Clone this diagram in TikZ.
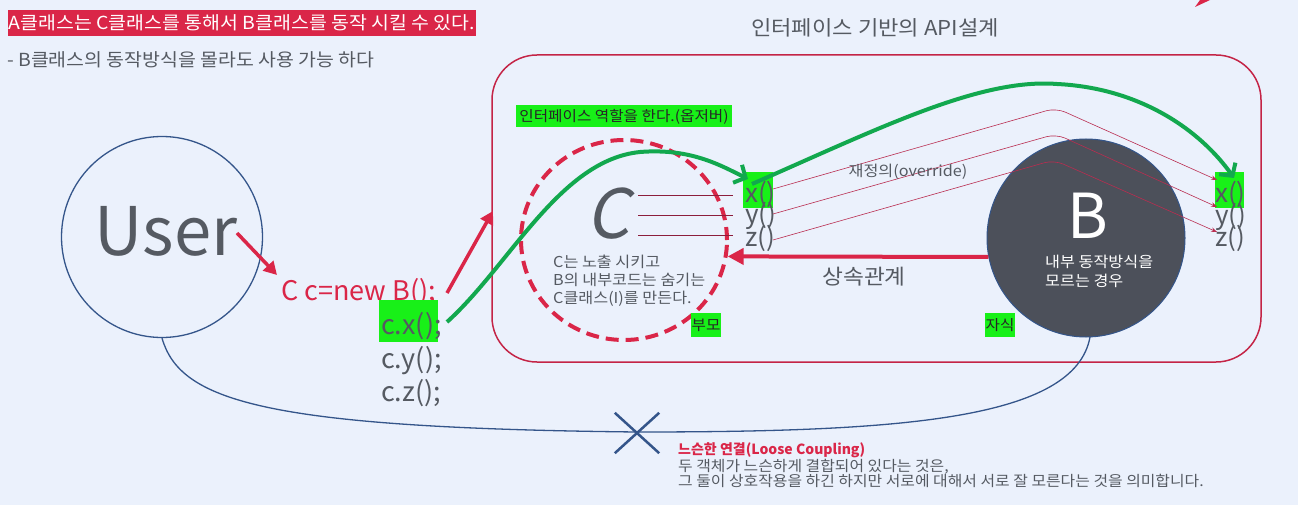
\documentclass[tikz,border=0pt]{standalone}
\usepackage{fontspec}
\setmainfont{Noto Sans CJK KR}
\newfontfamily\slantfont[FakeSlant=0.2]{Noto Sans CJK KR}
\newfontfamily\hfont[FakeStretch=1.08]{Noto Sans CJK KR}
\usetikzlibrary{arrows.meta,shapes.geometric}
\newcommand{\myfs}[2]{\fontsize{#1}{#2}\selectfont}
\definecolor{bg}{RGB}{235,241,252}
\definecolor{crim}{RGB}{218,38,72}
\definecolor{rectred}{RGB}{196,36,70}
\definecolor{lime}{RGB}{24,240,24}
\definecolor{garrow}{RGB}{18,168,78}
\definecolor{txtgray}{RGB}{85,90,98}
\definecolor{bdark}{RGB}{76,80,90}
\definecolor{navy}{RGB}{52,85,138}
\definecolor{thinred}{RGB}{185,45,80}
\definecolor{linered}{RGB}{140,30,60}
\begin{document}
\begin{tikzpicture}[x=1pt,y=-1pt,
  gtext/.style={text=txtgray, inner sep=0pt},
  hlbox/.style={fill=lime, inner sep=0pt},
  codefont/.style={font=\myfs{27}{27}},
  xyzfont/.style={font=\myfs{26}{26}},
  redarrow/.style={draw=crim, line width=3.5pt, -{Triangle[length=13pt,width=14pt]}},
  greenarrow/.style={draw=garrow, line width=4pt, -{Straight Barb[length=9pt,width=20pt]}},
  thinline/.style={draw=thinred, line width=0.6pt, rounded corners=10pt, -{Stealth[length=6pt,width=4.5pt]}},
  cline/.style={draw=linered, line width=0.8pt}]
\useasboundingbox (0,0) rectangle (1298,505);
\fill[bg] (0,0) rectangle (1298,505);
\fill[crim] (1195,7) -- (1210,0) -- (1200,0) -- cycle;

% headings
\node[anchor=west, fill=crim, text=white, font=\hfont\myfs{18}{18}, inner xsep=0.5pt, inner ysep=0pt, minimum height=26pt] (title) at (8,23) {A클래스는 C클래스를 통해서 B클래스를 동작 시킬 수 있다.};
\node[gtext, anchor=west, font=\hfont\myfs{18}{18}] (sub) at (7,60) {- B클래스의 동작방식을 몰라도 사용 가능 하다};
\node[gtext, font=\hfont\myfs{20.5}{20.5}] (api) at (875,28) {인터페이스 기반의 API설계};

% frame
\node[draw=rectred, line width=1.5pt, rounded corners=45pt, minimum width=769pt, minimum height=307pt, inner sep=0pt] (frame) at (876.5,208.5) {};

% user
\node[circle, draw=navy, line width=1.3pt, minimum size=201pt, inner sep=0pt] (user) at (162,237) {};
\node[gtext, font=\myfs{67}{67}] (usertxt) at (166,231) {User};

% code
\node[anchor=base west, text=crim, inner sep=0pt, codefont] (cnew) at (281,300) {C c=new B();};
\node[hlbox, minimum width=59pt, minimum height=42pt] (cxbox) at (408.5,321) {};
\node[gtext, anchor=base west, codefont] (cx) at (381,334) {c.x();};
\node[gtext, anchor=base west, codefont] (cy) at (381,368) {c.y();};
\node[gtext, anchor=base west, codefont] (cz) at (381,401) {c.z();};

% bottom coupling curve
\draw[navy, line width=1.3pt] (user.south) .. controls (180,400) and (260,428) .. (637,432)
  .. controls (900,432) and (1075,420) .. (1090,337);
\node[minimum width=44pt, minimum height=40pt, inner sep=0pt] (xmark) at (637,433) {};
\draw[navy, line width=2.5pt] (xmark.north west) -- (xmark.south east);
\draw[navy, line width=2.5pt] (xmark.south west) -- (xmark.north east);
\node[anchor=base west, text=crim, inner sep=0pt, font=\myfs{14}{14}\bfseries] (loose) at (678,454) {느슨한 연결(Loose Coupling)};
\node[gtext, anchor=base west, font=\hfont\myfs{14.7}{14.7}] (loose2) at (678,471) {두 객체가 느슨하게 결합되어 있다는 것은,};
\node[gtext, anchor=base west, font=\hfont\myfs{14.7}{14.7}] (loose3) at (678,486) {그 둘이 상호작용을 하긴 하지만 서로에 대해서 서로 잘 모른다는 것을 의미합니다.};

% interface label
\node[hlbox, minimum width=216pt, minimum height=22pt, font=\hfont\myfs{14.5}{14.5}, text=black!85] (role) at (624,116.5) {인터페이스 역할을 한다.(옵저버)};

% C circle
\node[ellipse, draw=crim, line width=4pt, dash pattern=on 13pt off 7pt, minimum width=206pt, minimum height=200pt, inner sep=0pt] (ccirc) at (624,240) {};
\node[gtext, font=\slantfont\myfs{68}{68}] (cletter) at (608,214) {C};
\node[gtext, anchor=base west, font=\hfont\myfs{15}{15}] (cd1) at (553,267) {C는 노출 시키고};
\node[gtext, anchor=base west, font=\hfont\myfs{15}{15}] (cd2) at (553,285) {B의 내부코드는 숨기는};
\node[gtext, anchor=base west, font=\hfont\myfs{15}{15}] (cd3) at (553,303) {C클래스(I)를 만든다.};
\node[hlbox, minimum width=30pt, minimum height=24pt, font=\hfont\myfs{14.5}{14.5}, text=black!85] (parent) at (706,325) {부모};

% left x y z
\node[hlbox, minimum width=30pt, minimum height=36pt] (lxbox) at (758,190) {};
\node[gtext, anchor=base west, xyzfont] (lx) at (745,203) {x()};
\node[gtext, anchor=base west, xyzfont] (ly) at (745,224) {y()};
\node[gtext, anchor=base west, xyzfont] (lz) at (745,246) {z()};
\coordinate (c1a) at (638,195); \coordinate (c1b) at (733,195);
\coordinate (c2a) at (638,215); \coordinate (c2b) at (733,215);
\coordinate (c3a) at (638,235); \coordinate (c3b) at (733,235);
\draw[cline] (c1a) -- (c1b);
\draw[cline] (c2a) -- (c2b);
\draw[cline] (c3a) -- (c3b);

% B circle
\node[circle, fill=bdark, draw=navy, line width=1pt, minimum size=198pt, inner sep=0pt] (bcirc) at (1086,238) {};
\node[text=white, inner sep=0pt, font=\myfs{62}{62}] (bletter) at (1088,216) {B};
\node[text=white, anchor=base west, inner sep=0pt, font=\hfont\myfs{15}{15}] (bd1) at (1045,267) {내부 동작방식을};
\node[text=white, anchor=base west, inner sep=0pt, font=\hfont\myfs{15}{15}] (bd2) at (1045,286) {모르는 경우};
\node[hlbox, minimum width=30pt, minimum height=24pt, font=\hfont\myfs{14.5}{14.5}, text=black!85] (child) at (1000,325) {자식};

% right x y z
\node[hlbox, minimum width=29pt, minimum height=36pt] (rxbox) at (1229,190) {};
\node[gtext, anchor=base west, xyzfont] (rx) at (1215,203) {x()};
\node[gtext, anchor=base west, xyzfont] (ry) at (1215,225) {y()};
\node[gtext, anchor=base west, xyzfont] (rz) at (1215,247) {z()};

% override lines
\coordinate (o1s) at (773,189); \coordinate (o1e) at (1217,180);
\coordinate (o2s) at (773,214); \coordinate (o2e) at (1217,207);
\coordinate (o3s) at (773,240); \coordinate (o3e) at (1217,232);
\draw[thinline] (o1s) -- (1056,108) -- (o1e);
\draw[thinline] (o2s) -- (1056,134) -- (o2e);
\draw[thinline] (o3s) -- (1054,160) -- (o3e);
\node[gtext, font=\hfont\myfs{15}{15}] (override) at (908,172) {재정의(override)};

% inheritance arrow
\draw[crim, line width=4pt, -{Triangle[length=16pt,width=16pt]}] (bcirc.191) -- (ccirc.-9);
\node[gtext, font=\hfont\myfs{21}{21}] (inherit) at (864,277) {상속관계};

% arrows
\coordinate (ua) at (237,233);
\coordinate (ub) at (277,275);
\draw[redarrow] (ua) -- (ub);
\coordinate (na) at (447,293);
\coordinate (nb) at (493,211);
\draw[redarrow] (na) -- (nb);
\coordinate (ga) at (447,322);
\coordinate (gb) at (748,179);
\draw[greenarrow] (ga) .. controls (510,265) and (560,160) .. (640,152)
  .. controls (690,148) and (720,165) .. (gb);
\coordinate (gc) at (752,184);
\coordinate (gd) at (1234,178);
\draw[greenarrow] (gc) .. controls (880,128) and (980,78) .. (1057,84)
  .. controls (1140,88) and (1200,130) .. (gd);
\end{tikzpicture}
\end{document}
